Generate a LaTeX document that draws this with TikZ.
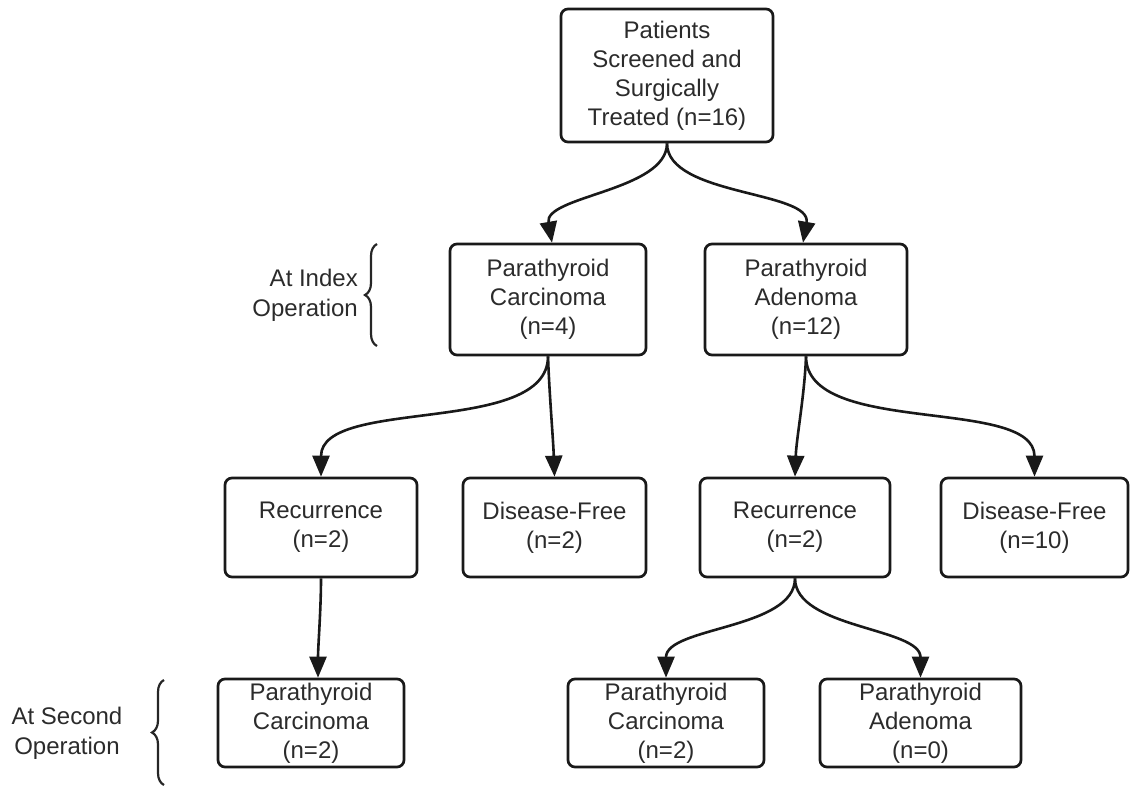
\documentclass[tikz,border=0pt]{standalone}
\usepackage{fontspec}
\setmainfont{Liberation Sans}
\usetikzlibrary{arrows.meta,decorations.pathreplacing}
\definecolor{txt}{HTML}{2B2B2B}
\tikzset{
  box/.style={draw=black!90, line width=2.7pt, rounded corners=7pt, align=center,
    text=txt, font=\fontsize{24}{29}\selectfont, inner sep=0pt},
  conn/.style={line width=2.6pt, draw=black!90, looseness=0.8, -{Triangle[length=21pt,width=17pt]}},
  lbl/.style={text=txt, font=\fontsize{24}{30}\selectfont, inner sep=0pt},
  brc/.style={line width=2.2pt, draw=black!85, decorate, decoration={brace, amplitude=12pt}}
}
\begin{document}
\begin{tikzpicture}[x=1pt,y=-1pt]
\useasboundingbox (0,0) rectangle (1131,785);
\node[box, minimum width=212pt, minimum height=133pt] (top) at (667,75.5) {Patients\\Screened and\\Surgically\\Treated (n=16)};
\node[box, minimum width=196pt, minimum height=111pt] (pc1) at (548,299.5) {Parathyroid\\Carcinoma\\(n=4)};
\node[box, minimum width=202pt, minimum height=111pt] (pa1) at (806,299.5) {Parathyroid\\Adenoma\\(n=12)};
\node[box, minimum width=192pt, minimum height=99pt] (rec1) at (321,527.5) {Recurrence\\(n=2)};
\node[box, minimum width=183pt, minimum height=99pt] (df1) at (554.5,527.5) {Disease-Free\\(n=2)};
\node[box, minimum width=190pt, minimum height=99pt] (rec2) at (795,527.5) {Recurrence\\(n=2)};
\node[box, minimum width=187pt, minimum height=99pt] (df2) at (1034.5,527.5) {Disease-Free\\(n=10)};
\node[box, minimum width=186pt, minimum height=88pt] (pc2) at (311,723) {Parathyroid\\Carcinoma\\(n=2)};
\node[box, minimum width=196pt, minimum height=88pt] (pc3) at (666,723) {Parathyroid\\Carcinoma\\(n=2)};
\node[box, minimum width=201pt, minimum height=88pt] (pa3) at (920.5,723) {Parathyroid\\Adenoma\\(n=0)};

\draw[conn] (top.south) to[out=-90,in=100] ([xshift=4pt]pc1.north);
\draw[conn] (top.south) to[out=-90,in=80] ([xshift=-3pt]pa1.north);
\draw[conn] (pc1.south) to[out=-90,in=90] (rec1.north);
\draw[conn] (pc1.south) to[out=-88,in=92] (df1.north);
\draw[conn] (pa1.south) to[out=-92,in=88] (rec2.north);
\draw[conn] (pa1.south) to[out=-90,in=90] (df2.north);
\draw[conn] (rec1.south) to[out=-90,in=90] ([xshift=7pt]pc2.north);
\draw[conn] (rec2.south) to[out=-90,in=90] (pc3.north);
\draw[conn] (rec2.south) to[out=-90,in=90] (pa3.north);

\coordinate (b1a) at (377,346);
\coordinate (b1b) at (377,244);
\draw[brc] (b1a) -- (b1b);
\node[lbl, align=right, anchor=east] (l1) at (358,295) {At Index\\Operation};
\coordinate (b2a) at (164,785);
\coordinate (b2b) at (164,680);
\draw[brc] (b2a) -- (b2b);
\node[lbl, align=center] (l2) at (67,733) {At Second\\Operation};
\end{tikzpicture}
\end{document}
